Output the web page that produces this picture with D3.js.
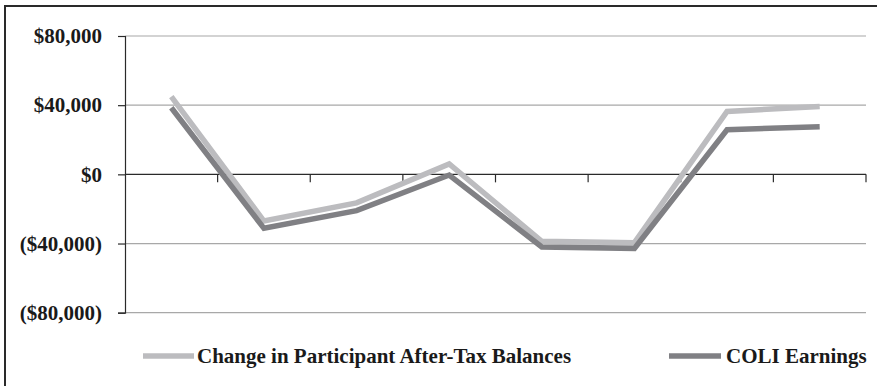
<!DOCTYPE html>
<html>
<head>
<meta charset="utf-8">
<script src="https://cdn.jsdelivr.net/npm/d3@7"></script>
<style>
  html, body { margin: 0; padding: 0; background: #fff; }
  svg { display: block; }
  text { font-family: "Liberation Serif", "Times New Roman", serif; font-weight: bold; fill: #1a1a1a; }
</style>
</head>
<body>
<svg id="chart" width="877" height="386"></svg>
<script>
const categories = ["1", "2", "3", "4", "5", "6", "7", "8"];
const participantBalances = [45000, -27000, -16500, 6000, -38700, -39500, 36400, 39300];
const coliEarnings = [38500, -31200, -21000, -400, -42000, -42800, 25800, 27500];
const yTicks = [80000, 40000, 0, -40000, -80000];
const seriesNames = ["Change in Participant After-Tax Balances", "COLI Earnings"];

const svg = d3.select("#chart");
const W = 877, H = 386;
const plot = { left: 125, right: 866, top: 36, bottom: 312.7 };

svg.append("rect").attr("width", W).attr("height", H).attr("fill", "#fff");
svg.append("rect")
  .attr("x", 5).attr("y", 6).attr("width", 920).attr("height", 420)
  .attr("fill", "none").attr("stroke", "#2a2a2a").attr("stroke-width", 2);

const x = d3.scaleBand().domain(categories).range([plot.left, plot.right]).padding(0);
const y = d3.scaleLinear().domain([-80000, 80000]).range([plot.bottom, plot.top]);

const fmt = v => v === 0 ? "$0" : (v < 0 ? "($" + d3.format(",")(-v) + ")" : "$" + d3.format(",")(v));

// gridlines
svg.append("g").selectAll("line").data(yTicks.filter(v => v !== 0)).join("line")
  .attr("x1", plot.left).attr("x2", plot.right)
  .attr("y1", d => y(d)).attr("y2", d => y(d))
  .attr("stroke", "#a8a8a8").attr("stroke-width", 1.2);

// y axis
const yAxis = d3.axisLeft(y).tickValues(yTicks).tickFormat(fmt).tickSize(7).tickPadding(16);
const gy = svg.append("g").attr("transform", `translate(${plot.left},0)`).call(yAxis);
gy.select(".domain").attr("stroke", "#2a2a2a").attr("stroke-width", 1.2);
gy.selectAll(".tick line").attr("stroke", "#2a2a2a").attr("stroke-width", 1.2);
gy.selectAll(".tick text")
  .style("font-family", "'Liberation Serif', 'Times New Roman', serif")
  .style("font-weight", "bold").style("font-size", "21px").attr("fill", "#1a1a1a");

// zero (category) axis with boundary ticks
const zeroY = y(0);
svg.append("line").attr("x1", plot.left).attr("x2", plot.right)
  .attr("y1", zeroY).attr("y2", zeroY).attr("stroke", "#2a2a2a").attr("stroke-width", 1.2);
const bounds = categories.map(c => x(c)).concat([x.range()[1]]).slice(1);
svg.append("g").selectAll("line").data(bounds).join("line")
  .attr("x1", d => d).attr("x2", d => d)
  .attr("y1", zeroY).attr("y2", zeroY + 8)
  .attr("stroke", "#2a2a2a").attr("stroke-width", 1.2);

const line = d3.line()
  .x((d, i) => x(categories[i]) + x.bandwidth() / 2)
  .y(d => y(d));

const colors = ["#bcbcbf", "#808084"];
svg.append("path").datum(participantBalances).attr("d", line)
  .attr("fill", "none").attr("stroke", colors[0]).attr("stroke-width", 5.5).attr("stroke-linejoin", "miter");
svg.append("path").datum(coliEarnings).attr("d", line)
  .attr("fill", "none").attr("stroke", colors[1]).attr("stroke-width", 5.5).attr("stroke-linejoin", "miter");

// legend
const legY = 356;
const legend = [
  { name: seriesNames[0], color: colors[0], x1: 143, x2: 194, tx: 197 },
  { name: seriesNames[1], color: colors[1], x1: 669, x2: 721, tx: 726 }
];
const lg = svg.append("g");
legend.forEach(l => {
  lg.append("line").attr("x1", l.x1).attr("x2", l.x2).attr("y1", legY).attr("y2", legY)
    .attr("stroke", l.color).attr("stroke-width", 5.5);
  lg.append("text").attr("x", l.tx).attr("y", legY).attr("dy", "0.35em")
    .style("font-size", "21px").text(l.name);
});
</script>
</body>
</html>
